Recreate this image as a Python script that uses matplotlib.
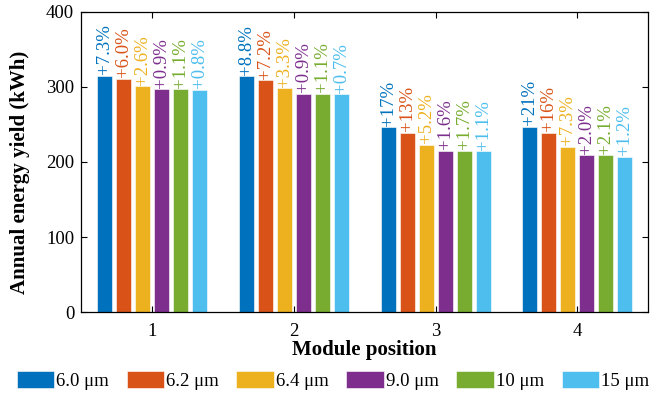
import numpy as np
import matplotlib
matplotlib.use('Agg')
import matplotlib.pyplot as plt

plt.rcParams['font.family'] = ['Liberation Serif', 'DejaVu Serif']

# data
positions = [1, 2, 3, 4]
thickness = ['6.0 μm', '6.2 μm', '6.4 μm', '9.0 μm', '10 μm', '15 μm']
colors = ['#0072BD', '#D95319', '#EDB120', '#7E2F8E', '#77AC30', '#4DBEEE']

yield_60 = [315, 314, 246, 247]
yield_62 = [311, 309, 239, 239]
yield_64 = [301, 298, 223, 220]
yield_90 = [297, 291, 215, 209]
yield_10 = [297, 291, 215, 209]
yield_15 = [296, 290, 214, 207]
series = [yield_60, yield_62, yield_64, yield_90, yield_10, yield_15]

gain_60 = ['+7.3%', '+8.8%', '+17%', '+21%']
gain_62 = ['+6.0%', '+7.2%', '+13%', '+16%']
gain_64 = ['+2.6%', '+3.3%', '+5.2%', '+7.3%']
gain_90 = ['+0.9%', '+0.9%', '+1.6%', '+2.0%']
gain_10 = ['+1.1%', '+1.1%', '+1.7%', '+2.1%']
gain_15 = ['+0.8%', '+0.7%', '+1.1%', '+1.2%']
gains = [gain_60, gain_62, gain_64, gain_90, gain_10, gain_15]

fig = plt.figure(figsize=(6.71, 3.97), dpi=100)
ax = fig.add_axes([0.121, 0.214, 0.845, 0.756])

x = np.array(positions)
pitch = 0.134
w = 0.106
for i in range(6):
    xs = x + (i - 2.5) * pitch
    ax.bar(xs, series[i], width=w, color=colors[i], edgecolor='white',
           linewidth=0.4, label=thickness[i])
    for xx, v, g in zip(xs, series[i], gains[i]):
        ax.text(xx, v + 2, g, rotation=90, ha='center', va='bottom',
                color=colors[i], fontsize=13.5)

ax.set_xlim(0.5, 4.5)
ax.set_ylim(0, 400)
ax.set_xticks(positions)
ax.set_yticks([0, 100, 200, 300, 400])
ax.tick_params(direction='in', top=True, right=True, labelsize=13.5,
               length=4, width=0.8)
ax.tick_params(axis='x', pad=8)
ax.tick_params(axis='y', pad=5)
for s in ax.spines.values():
    s.set_linewidth(0.9)
ax.set_ylabel('Annual energy yield (kWh)', fontsize=15, fontweight='bold')
ax.yaxis.set_label_coords(-0.09, 0.467)
ax.set_xlabel('Module position', fontsize=15, fontweight='bold', labelpad=0)

fig.legend(loc='lower left', bbox_to_anchor=(0.008, -0.01), ncol=6, frameon=False,
           fontsize=13.5, handlelength=2.0, handleheight=1.05, handletextpad=0.1,
           columnspacing=0.95, borderaxespad=0.2)

fig.savefig('out.png', dpi=100)
